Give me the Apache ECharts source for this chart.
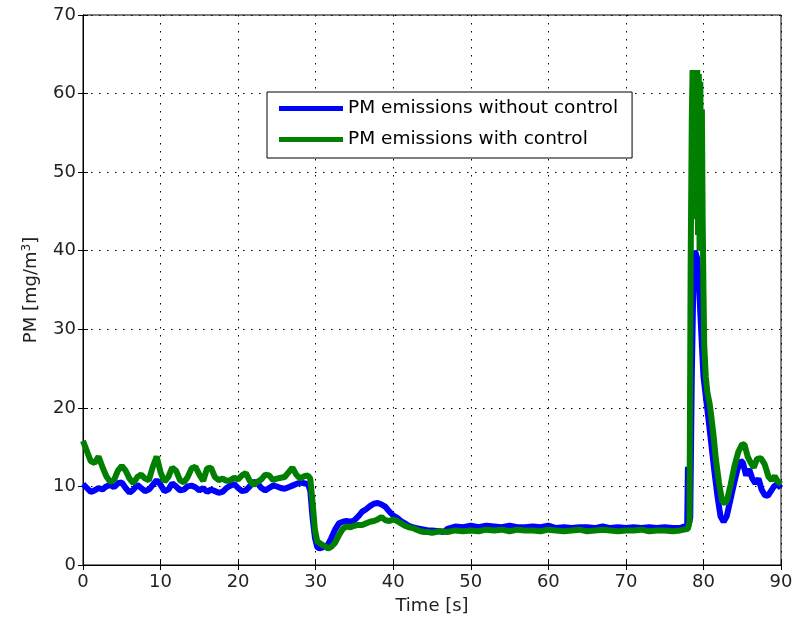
<!DOCTYPE html>
<html>
<head>
<meta charset="utf-8">
<script src="https://cdn.jsdelivr.net/npm/echarts@6/dist/echarts.min.js"></script>
<style>html,body{margin:0;padding:0;background:#fff;}#c{width:802px;height:622px;}</style>
</head>
<body>
<div id="c"></div>
<script>
// Time axis ticks and labels
const xTicks = [0, 10, 20, 30, 40, 50, 60, 70, 80, 90];
const yTicks = [0, 10, 20, 30, 40, 50, 60, 70];
const seriesNames = ['PM emissions without control', 'PM emissions with control'];

// PM emissions without control (blue)
const tWithout = [0,0.5,1,1.5,2,2.5,3,3.5,4,4.5,5,5.5,6,6.5,7,7.5,8,8.5,9,9.5,10,10.5,11,11.5,12,12.5,13,13.5,14,14.5,15,15.5,16,16.5,17,17.5,18,18.5,19,19.5,20,20.5,21,21.5,22,22.5,23,23.5,24,24.5,25,25.5,26,26.5,27,27.5,28,28.5,29,29.3,29.6,29.9,30.2,30.5,30.8,31.2,31.6,32,32.5,33,33.5,34,34.5,35,35.5,36,36.5,37,37.5,38,38.5,39,39.5,40,40.5,41,41.5,42,42.5,43,43.5,44,44.5,45,46,46.5,47,48,49,50,51,52,53,54,55,56,57,58,59,60,61,62,63,64,65,66,67,68,69,70,71,72,73,74,75,76,77,77.5,77.9,78,78.05,78.3,78.5,78.7,78.9,79.2,79.4,79.6,79.8,80,80.3,80.6,81,81.4,81.8,82.2,82.6,83,83.5,84,84.4,84.8,85.1,85.5,85.9,86.3,86.7,87.1,87.5,87.9,88.3,88.7,89.1,89.5,90];
const pmWithout = [10.3,9.8,9.3,9.5,9.8,9.6,10,10.2,9.9,10.4,10.5,9.8,9.2,9.6,10.2,9.8,9.4,9.6,10.2,10.8,10.2,9.4,9.6,10.4,10,9.5,9.6,10,10.1,9.9,9.5,9.8,9.3,9.6,9.4,9.2,9.3,9.8,10.1,10.3,9.8,9.4,9.5,10,10.6,10.4,9.8,9.5,9.8,10.1,10,9.8,9.7,9.9,10.1,10.3,10.5,10.4,10.3,9.5,6,3.5,2.3,2.1,2.2,2.4,2.6,3.4,4.5,5.3,5.5,5.6,5.5,5.7,6.2,6.8,7.1,7.5,7.8,7.9,7.7,7.4,6.8,6.3,6,5.6,5.3,5,4.8,4.7,4.6,4.5,4.4,4.4,4.3,4.2,4.6,4.9,4.8,5,4.8,5,4.9,4.8,5,4.8,4.8,4.9,4.8,5,4.7,4.8,4.7,4.8,4.8,4.7,4.9,4.7,4.8,4.7,4.8,4.7,4.8,4.7,4.8,4.7,4.7,4.9,4.8,12.5,5,6,24,36,40,39,36,32,28,24,21.5,19,15.5,12,8.8,6.2,5.5,6.2,8.4,10.6,12.2,13.3,13,11.4,12.2,11,10.4,11,9.6,8.9,8.8,9.4,10,10.3,9.8];

// PM emissions with control (green)
const tWith = [0,0.5,1,1.5,2,2.5,3,3.5,4,4.5,5,5.5,6,6.5,7,7.5,8,8.5,9,9.5,10,10.5,11,11.5,12,12.5,13,13.5,14,14.5,15,15.5,16,16.5,17,17.5,18,18.5,19,19.5,20,20.5,21,21.5,22,22.5,23,23.5,24,24.5,25,25.5,26,26.5,27,27.5,28,28.5,29,29.3,29.6,29.9,30.2,30.5,30.8,31.2,31.6,32,32.5,33,33.5,34,34.5,35,35.5,36,36.5,37,37.5,38,38.5,39,39.5,40,40.5,41,41.5,42,42.5,43,43.5,44,44.5,45,46,47,48,49,50,51,52,53,54,55,56,57,58,59,60,61,62,63,64,65,66,67,68,69,70,71,72,73,74,75,76,77,77.5,78,78.2,78.35,78.5,78.6,78.7,78.8,78.9,79,79.1,79.2,79.3,79.4,79.5,79.6,79.7,79.8,79.9,80,80.1,80.3,80.5,80.8,81,81.3,81.6,82,82.4,82.8,83.1,83.5,84,84.5,85,85.3,85.7,86.1,86.5,86.9,87.4,87.9,88.4,88.8,89.2,89.6,90];
const pmWith = [15.8,14.5,13.2,13,13.8,12.5,11.3,10.6,10.8,12,12.6,12,11,10.4,11.2,11.5,11,10.8,12.5,13.8,11.8,10.6,11.2,12.4,12,10.8,10.5,11.2,12.3,12.5,11.5,10.7,12.3,12.4,11.2,10.8,11,10.7,10.8,11.1,10.9,11.4,11.7,10.7,10.2,10.6,10.9,11.5,11.4,10.8,11,11.1,11.2,11.8,12.4,11.5,11,11.3,11.4,11,8,4.5,3,2.8,2.6,2.4,2.1,2.3,2.8,3.8,4.6,4.9,4.8,5,5.1,5.1,5.3,5.5,5.6,5.8,6.1,5.7,5.6,5.8,5.6,5.3,5,4.8,4.7,4.5,4.3,4.2,4.2,4.1,4.3,4.2,4.4,4.3,4.4,4.3,4.5,4.4,4.5,4.3,4.5,4.4,4.4,4.3,4.5,4.4,4.3,4.4,4.5,4.3,4.4,4.5,4.4,4.3,4.4,4.4,4.5,4.3,4.4,4.4,4.3,4.4,4.5,4.6,5.5,38,57,63,50,63,46,62.8,44,63,42,62.5,40,61.5,45,58,44,35,28,24,22,20.5,19,16.5,13.5,10.5,8.2,7.8,8.5,10.2,12.6,14.4,15.4,15.3,13.8,13,12.4,13.5,13.6,12.8,11.2,10.8,11.3,10.6,10.3];

const FONT = 'DejaVu Sans';
const chart = echarts.init(document.getElementById('c'), null, {renderer: 'canvas'});
const pairs = (t, v) => t.map((x, i) => [x, v[i]]);
const tickStyle = {show: true, inside: true, length: 5, lineStyle: {color: '#000', width: 1}};
chart.setOption({
  animation: false,
  backgroundColor: '#fff',
  grid: {left: 83, right: 21, top: 15, bottom: 57, show: true, borderColor: '#000', borderWidth: 1, backgroundColor: '#fff'},
  legend: {
    data: seriesNames,
    orient: 'vertical',
    left: 267, top: 92,
    icon: 'rect', itemWidth: 64, itemHeight: 5, itemGap: 12,
    padding: [7, 14, 9, 12],
    backgroundColor: '#fff', borderColor: '#000', borderWidth: 1,
    textStyle: {fontFamily: FONT, fontSize: 18.5, color: '#000'}
  },
  xAxis: [{
    type: 'value', min: 0, max: 90, interval: 10,
    name: 'Time [s]', nameLocation: 'middle', nameGap: 32,
    nameTextStyle: {fontFamily: FONT, fontSize: 18, color: '#222'},
    axisLine: {show: true, lineStyle: {color: '#000', width: 1}},
    axisTick: tickStyle,
    axisLabel: {margin: 8, fontFamily: FONT, fontSize: 18, color: '#222',
      formatter: v => xTicks.includes(v) ? String(v) : ''},
    splitLine: {show: true, lineStyle: {color: '#000', width: 1, type: [1.5, 6.5]}}
  }, {
    type: 'value', min: 0, max: 90, interval: 10, position: 'top',
    axisLine: {show: true, lineStyle: {color: '#000'}}, axisTick: tickStyle,
    axisLabel: {show: false}, splitLine: {show: false}
  }],
  yAxis: [{
    type: 'value', min: 0, max: 70, interval: 10,
    name: '{n|PM [mg/m}{s|3}{n|]}', nameLocation: 'middle', nameGap: 42,
    nameTextStyle: {color: '#222', rich: {
      n: {fontFamily: FONT, fontSize: 18, color: '#222'},
      s: {fontFamily: FONT, fontSize: 12, color: '#222', verticalAlign: 'top', padding: [0, 0, 8, 0]}
    }},
    axisLine: {show: true, lineStyle: {color: '#000', width: 1}},
    axisTick: tickStyle,
    axisLabel: {margin: 7, fontFamily: FONT, fontSize: 18, color: '#222',
      formatter: v => yTicks.includes(v) ? String(v) : ''},
    splitLine: {show: true, lineStyle: {color: '#000', width: 1, type: [1.5, 6.5]}}
  }, {
    type: 'value', min: 0, max: 70, interval: 10, position: 'right',
    axisLine: {show: true, lineStyle: {color: '#000'}}, axisTick: tickStyle,
    axisLabel: {show: false}, splitLine: {show: false}
  }],
  series: [{
    name: seriesNames[0], type: 'line', data: pairs(tWithout, pmWithout),
    showSymbol: false, symbol: 'none', color: '#0000ff',
    lineStyle: {color: '#0000ff', width: 6}, z: 3
  }, {
    name: seriesNames[1], type: 'line', data: pairs(tWith, pmWith),
    showSymbol: false, symbol: 'none', color: '#007f00',
    lineStyle: {color: '#007f00', width: 6}, z: 4
  }]
});
</script>
</body>
</html>
